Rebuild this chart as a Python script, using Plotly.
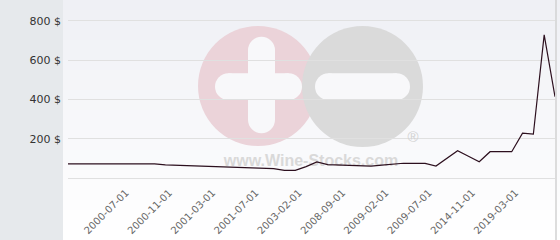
import plotly.graph_objects as go

# ---- data ----
values = [72, 72, 72, 72, 72, 72, 72, 72, 72, 67, 65, 64, 62, 60, 58, 56, 54, 52, 51, 48,
          39, 39, 58, 82, 68, 66, 64, 61, 60, 66, 70, 75, 74, 74, 61, 100, 139, 111, 83, 134,
          134, 134, 228, 223, 729, 414]
tick_positions = [6, 10, 14, 18, 22, 26, 30, 34, 38, 42]
tick_labels = ["2000-07-01", "2000-11-01", "2001-03-01", "2001-07-01", "2003-02-01",
               "2008-09-01", "2009-02-01", "2009-07-01", "2014-11-01", "2019-03-01"]
y_ticks = [0, 200, 400, 600, 800]
y_labels = ["", "200 $", "400 $", "600 $", "800 $"]

x_idx = list(range(len(values)))

# ---- layout geometry (pixels) ----
W, H = 560, 240
L, R, T, B = 68, 5, 17, 62
PW, PH = W - L - R, H - T - B
YMAX = 820
XMAX = len(values) - 1


def px(xp):
    return (xp - L) / PW


def py(yp):
    return (H - B - yp) / PH


def rect(x0, y0, x1, y1, color, kind="rect"):
    return dict(type=kind, xref="paper", yref="paper", x0=px(x0), x1=px(x1),
                y0=py(y1), y1=py(y0), fillcolor=color, line=dict(width=0), layer="below")


def rounded_bar(x0, y0, x1, y1, color):
    out = []
    w, h = x1 - x0, y1 - y0
    if w >= h:
        r = h / 2
        out.append(rect(x0 + r, y0, x1 - r, y1, color))
        out.append(rect(x0, y0, x0 + 2 * r, y1, color, "circle"))
        out.append(rect(x1 - 2 * r, y0, x1, y1, color, "circle"))
    else:
        r = w / 2
        out.append(rect(x0, y0 + r, x1, y1 - r, color))
        out.append(rect(x0, y0, x1, y0 + 2 * r, color, "circle"))
        out.append(rect(x0, y1 - 2 * r, x1, y1, color, "circle"))
    return out


shapes = []
# gradient background of the chart panel
top_c = (239, 240, 245)
bot_c = (255, 255, 255)
n = 24
for i in range(n):
    t = i / (n - 1)
    c = tuple(int(round(top_c[k] + (bot_c[k] - top_c[k]) * t)) for k in range(3))
    shapes.append(rect(63, i * 10, 560, i * 10 + 10.5, "rgb(%d,%d,%d)" % c))
# left grey panel
shapes.append(rect(0, 0, 63, 240, "#e6e9ec"))
# right border
shapes.append(dict(type="line", xref="paper", yref="paper", x0=px(556), x1=px(556),
                   y0=py(240), y1=py(0), line=dict(color="#d2d2d2", width=1.5), layer="below"))
# watermark
shapes.append(rect(198, 26, 318, 146, "#ebd3d9", "circle"))
shapes.append(rect(302, 26, 423, 147, "#dadada", "circle"))
wm_white = "#f8f8fa"
shapes += rounded_bar(215, 73.3, 302, 100, wm_white)
shapes += rounded_bar(248, 36.7, 275, 133.3, wm_white)
shapes += rounded_bar(315, 73.3, 410, 100, wm_white)

fig = go.Figure()

# watermark text (under the line)
fig.add_trace(go.Scatter(
    x=[(311 - L) / PW * XMAX, (413 - L) / PW * XMAX],
    y=[(H - B - 162) / PH * YMAX, (H - B - 138) / PH * YMAX],
    mode="text", text=["www.Wine-Stocks.com", "®"],
    textfont=dict(family="Liberation Sans", size=[16, 15], color=["#d9d9d9", "#d2d2d2"],
                  weight=["bold", "normal"]),
    textposition="middle center", hoverinfo="skip", cliponaxis=False, showlegend=False))

fig.add_trace(go.Scatter(
    x=x_idx, y=values, mode="lines",
    line=dict(color="#2c0f1e", width=1.2), cliponaxis=False, showlegend=False,
    hovertemplate="%{y} $<extra></extra>"))

fig.update_layout(
    width=W, height=H,
    margin=dict(l=L, r=R, t=T, b=B, pad=0),
    paper_bgcolor="#f7f8fa", plot_bgcolor="rgba(0,0,0,0)",
    shapes=shapes, showlegend=False,
    xaxis=dict(range=[0, XMAX], tickmode="array", tickvals=tick_positions, ticktext=tick_labels,
               tickangle=-45, ticks="", showgrid=False, zeroline=False,
               showline=True, linecolor="#e0e0e0", linewidth=1,
               ticklabelshift=-7, ticklabelstandoff=4,
               tickfont=dict(family="DejaVu Sans", size=10, color="#666666")),
    yaxis=dict(range=[0, YMAX], tickmode="array", tickvals=y_ticks, ticktext=y_labels,
               ticks="", showgrid=True, gridcolor="#e0e0e0", gridwidth=1, zeroline=False,
               ticklabelstandoff=6,
               tickfont=dict(family="DejaVu Sans", size=11, color="#333333")),
)

fig.write_html("out.html")
